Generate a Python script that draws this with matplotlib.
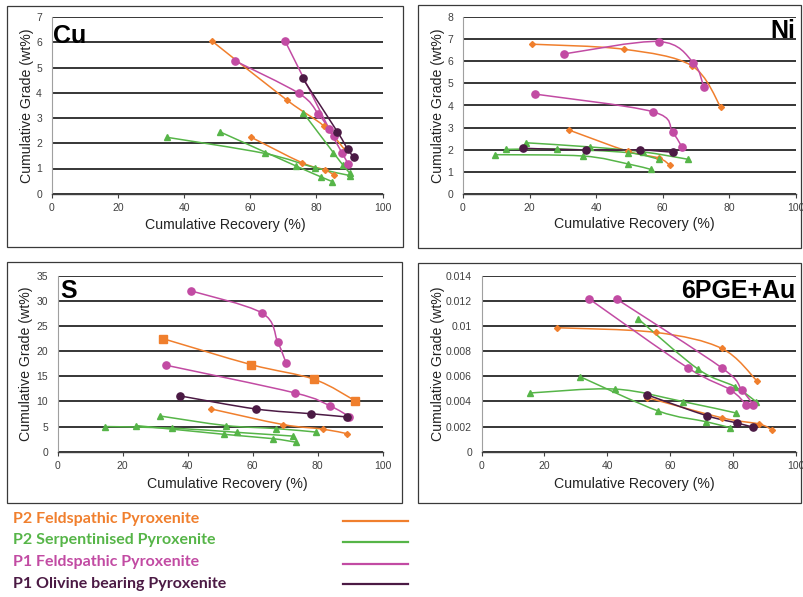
import numpy as np
import matplotlib
matplotlib.use('Agg')
import matplotlib.pyplot as plt
from matplotlib.path import Path
from matplotlib.patches import PathPatch, Rectangle
from matplotlib.lines import Line2D

plt.rcParams['font.family'] = 'Liberation Sans'

ORANGE = '#F07F2D'
GREEN = '#56B548'
MAGENTA = '#C24BA3'
PURPLE = '#4B1A44'

# cumulative recovery (%) and cumulative grade, one tuple per test
cu_p2_feld = [([48.5, 71.2, 82.2, 88.5], [6.05, 3.70, 2.69, 1.75]),
              ([60.1, 75.6, 82.6, 85.4], [2.25, 1.23, 0.94, 0.73])]
cu_p2_serp = [([34.7, 64.3, 79.6, 90.1], [2.24, 1.60, 1.03, 0.72]),
              ([50.9, 73.8, 81.3, 84.8], [2.45, 1.10, 0.67, 0.48]),
              ([76.0, 85.1, 88.1, 90.1], [3.21, 1.63, 1.12, 0.81])]
cu_p1_feld = [([70.5, 83.9, 87.8, 89.6], [6.06, 2.55, 1.60, 1.18]),
              ([55.4, 74.7, 80.6, 85.3], [5.27, 3.98, 3.16, 2.29])]
cu_p1_oliv = [([75.8, 86.3, 89.4, 91.3], [4.58, 2.46, 1.77, 1.44])]

ni_p2_feld = [([20.8, 48.4, 68.7, 77.4], [6.78, 6.55, 5.81, 3.95]),
              ([31.8, 49.6, 58.8, 62.2], [2.89, 1.92, 1.62, 1.29])]
ni_p2_serp = [([9.5, 36.0, 49.6, 56.5], [1.77, 1.71, 1.35, 1.10]),
              ([13.0, 28.3, 49.6, 59.0], [2.01, 2.03, 1.86, 1.56]),
              ([18.9, 38.2, 54.0, 67.7], [2.31, 2.12, 1.90, 1.56])]
ni_p1_feld = [([30.4, 58.9, 69.2, 72.4], [6.34, 6.90, 5.95, 4.83]),
              ([21.5, 57.0, 63.0, 65.8], [4.52, 3.72, 2.78, 2.12])]
ni_p1_oliv = [([18.1, 36.9, 53.2, 63.2], [2.06, 1.98, 1.98, 1.88])]

s_p2_feld = [([32.3, 59.6, 78.9, 91.6], [22.5, 17.3, 14.4, 10.1]),
             ([47.2, 69.3, 81.5, 88.9], [8.5, 5.4, 4.5, 3.6])]
s_p2_serp = [([31.5, 51.7, 67.2, 79.5], [7.1, 5.2, 4.6, 3.9]),
             ([14.6, 35.1, 55.1, 72.5], [5.0, 4.7, 3.85, 3.1]),
             ([24.1, 51.3, 66.1, 73.2], [5.2, 3.45, 2.6, 1.9])]
s_p1_feld = [([40.9, 62.8, 67.7, 70.3], [32.0, 27.6, 21.8, 17.6]),
             ([33.3, 72.9, 83.8, 89.7], [17.2, 11.7, 9.1, 7.0])]
s_p1_oliv = [([37.6, 60.9, 78.0, 89.1], [11.1, 8.5, 7.55, 6.9])]

pge_p2_feld = [([23.9, 55.4, 76.4, 87.6], [0.00986, 0.00949, 0.00822, 0.00565]),
               ([52.8, 76.4, 88.4, 92.5], [0.0043, 0.0027, 0.0022, 0.00172])]
pge_p2_serp = [([49.9, 69.0, 80.7, 87.4], [0.01055, 0.00655, 0.00517, 0.00398]),
               ([15.4, 42.5, 64.2, 81.0], [0.00467, 0.00498, 0.00398, 0.00308]),
               ([31.3, 56.3, 71.4, 79.1], [0.00597, 0.00323, 0.00239, 0.00191])]
pge_p1_feld = [([34.3, 65.6, 79.1, 84.2], [0.01214, 0.00668, 0.00493, 0.00374]),
               ([43.0, 76.4, 82.8, 86.5], [0.01214, 0.00668, 0.00493, 0.00374])]
pge_p1_oliv = [([52.8, 71.7, 81.4, 86.5], [0.00451, 0.00286, 0.00228, 0.00194])]

cu_yticks = [0, 1, 2, 3, 4, 5, 6, 7]
ni_yticks = [0, 1, 2, 3, 4, 5, 6, 7, 8]
s_yticks = [0, 5, 10, 15, 20, 25, 30, 35]
pge_yticks = [0, 0.002, 0.004, 0.006, 0.008, 0.01, 0.012, 0.014]
pge_yticklabels = ['0', '0.002', '0.004', '0.006', '0.008', '0.01', '0.012', '0.014']
xticks = [0, 20, 40, 60, 80, 100]

legend_labels = ['P2 Feldspathic Pyroxenite', 'P2 Serpentinised Pyroxenite',
                 'P1 Feldspathic Pyroxenite', 'P1 Olivine bearing Pyroxenite']
legend_colors = [ORANGE, GREEN, MAGENTA, PURPLE]

W, H = 804, 597
fig = plt.figure(figsize=(W / 100, H / 100), dpi=100)


def fx(px):
    return px / W


def fy(py):
    return 1 - py / H


def smooth_path(xs, ys):
    # excel style smoothed line, drawn as bezier segments
    pts = np.column_stack([xs, ys])
    n = len(pts)
    verts = [pts[0]]
    codes = [Path.MOVETO]
    for i in range(n - 1):
        p0 = pts[max(i - 1, 0)]
        p1 = pts[i]
        p2 = pts[i + 1]
        p3 = pts[min(i + 2, n - 1)]
        verts += [p1 + (p2 - p0) / 6, p2 - (p3 - p1) / 6, p2]
        codes += [Path.CURVE4] * 3
    return Path(verts, codes)


def draw_group(ax, series, color, markers, ms):
    for i, (xs, ys) in enumerate(series):
        ax.add_patch(PathPatch(smooth_path(xs, ys), fill=False, ec=color, lw=1.1, zorder=3))
        m = markers[i] if isinstance(markers, list) else markers
        ax.plot(xs, ys, ls='none', marker=m, ms=ms[i] if isinstance(ms, list) else ms,
                mfc=color, mec=color, zorder=4)


def panel(box, frame, data, yticks, ylabels, title, title_pos, ylab_x, xlab_pos,
          orange_markers='D', orange_ms=3.0):
    x0, x1, ytop, ybot = box
    ax = fig.add_axes([fx(x0), fy(ybot), fx(x1 - x0), (ybot - ytop) / H])
    fig.add_artist(Rectangle((fx(frame[0]), fy(frame[3])), fx(frame[1] - frame[0]),
                             (frame[3] - frame[2]) / H, transform=fig.transFigure,
                             fill=False, ec='#3a3a3a', lw=0.9))
    p2f, p2s, p1f, p1o = data
    draw_group(ax, p2f, ORANGE, orange_markers, orange_ms)
    draw_group(ax, p2s, GREEN, '^', 5)
    draw_group(ax, p1f, MAGENTA, 'o', 5.2)
    draw_group(ax, p1o, PURPLE, 'o', 5.2)

    ax.set_xlim(0, 100)
    ax.set_ylim(yticks[0], yticks[-1])
    ax.set_xticks(xticks)
    ax.set_yticks(yticks)
    ax.set_yticklabels(ylabels)
    ax.yaxis.grid(True, color='#262626', lw=1.3)
    ax.set_axisbelow(True)
    for s in ['top', 'right']:
        ax.spines[s].set_visible(False)
    ax.spines['left'].set_color('#a0a0a0')
    ax.spines['left'].set_linewidth(0.8)
    ax.spines['bottom'].set_color('#404040')
    ax.spines['bottom'].set_linewidth(1.0)
    ax.tick_params(axis='x', length=3, width=0.8, color='#404040', labelsize=7.5,
                   labelcolor='#404040', pad=4)
    ax.tick_params(axis='y', length=0, labelsize=7.5, labelcolor='#404040', pad=7)

    ax.set_ylabel('Cumulative Grade (wt%)', fontsize=10.2, color='#222222')
    ax.yaxis.set_label_coords(ylab_x, 0.5)
    ax.set_xlabel('Cumulative Recovery (%)', fontsize=10.2, color='#222222')
    ax.xaxis.set_label_coords(*xlab_pos)

    tx, ty, ha = title_pos
    ax.text(tx, ty, title, transform=ax.transAxes, ha=ha, va='baseline',
            fontsize=18, fontweight='bold', color='black', zorder=6)
    return ax


panel((51.7, 382.7, 17.3, 193.7), (7, 403, 6, 247),
      (cu_p2_feld, cu_p2_serp, cu_p1_feld, cu_p1_oliv),
      cu_yticks, [str(v) for v in cu_yticks], 'Cu', (0.004, 0.853, 'left'),
      -0.054, (0.524, -0.138))

panel((463, 795.7, 17.3, 193.7), (418, 801, 5, 248),
      (ni_p2_feld, ni_p2_serp, ni_p1_feld, ni_p1_oliv),
      ni_yticks, [str(v) for v in ni_yticks], 'Ni', (1.0, 0.881, 'right'),
      -0.054, (0.514, -0.13))

panel((57.7, 382.7, 275.7, 451.7), (7, 402, 262, 503),
      (s_p2_feld, s_p2_serp, s_p1_feld, s_p1_oliv),
      s_yticks, [str(v) for v in s_yticks], 'S', (0.007, 0.872, 'left'),
      -0.075, (0.522, -0.142), orange_markers=['s', 'D'], orange_ms=[5.5, 3.0])

panel((481.7, 795.7, 275.7, 451.7), (418, 801, 263, 503),
      (pge_p2_feld, pge_p2_serp, pge_p1_feld, pge_p1_oliv),
      pge_yticks, pge_yticklabels, '6PGE+Au', (1.0, 0.872, 'right'),
      -0.117, (0.485, -0.142))

# legend as text + line samples below the panels
rows_text = [519, 540, 562, 584]
rows_line = [521, 542, 564, 584]
for lab, col, yt, yl in zip(legend_labels, legend_colors, rows_text, rows_line):
    fig.text(fx(13), fy(yt), lab, color=col, fontsize=11.5, fontweight='bold',
             family='Lato', ha='left', va='center')
    fig.add_artist(Line2D([fx(343), fx(408)], [fy(yl), fy(yl)], color=col, lw=1.6,
                          transform=fig.transFigure))

fig.savefig('out.png', dpi=100, facecolor='white')
